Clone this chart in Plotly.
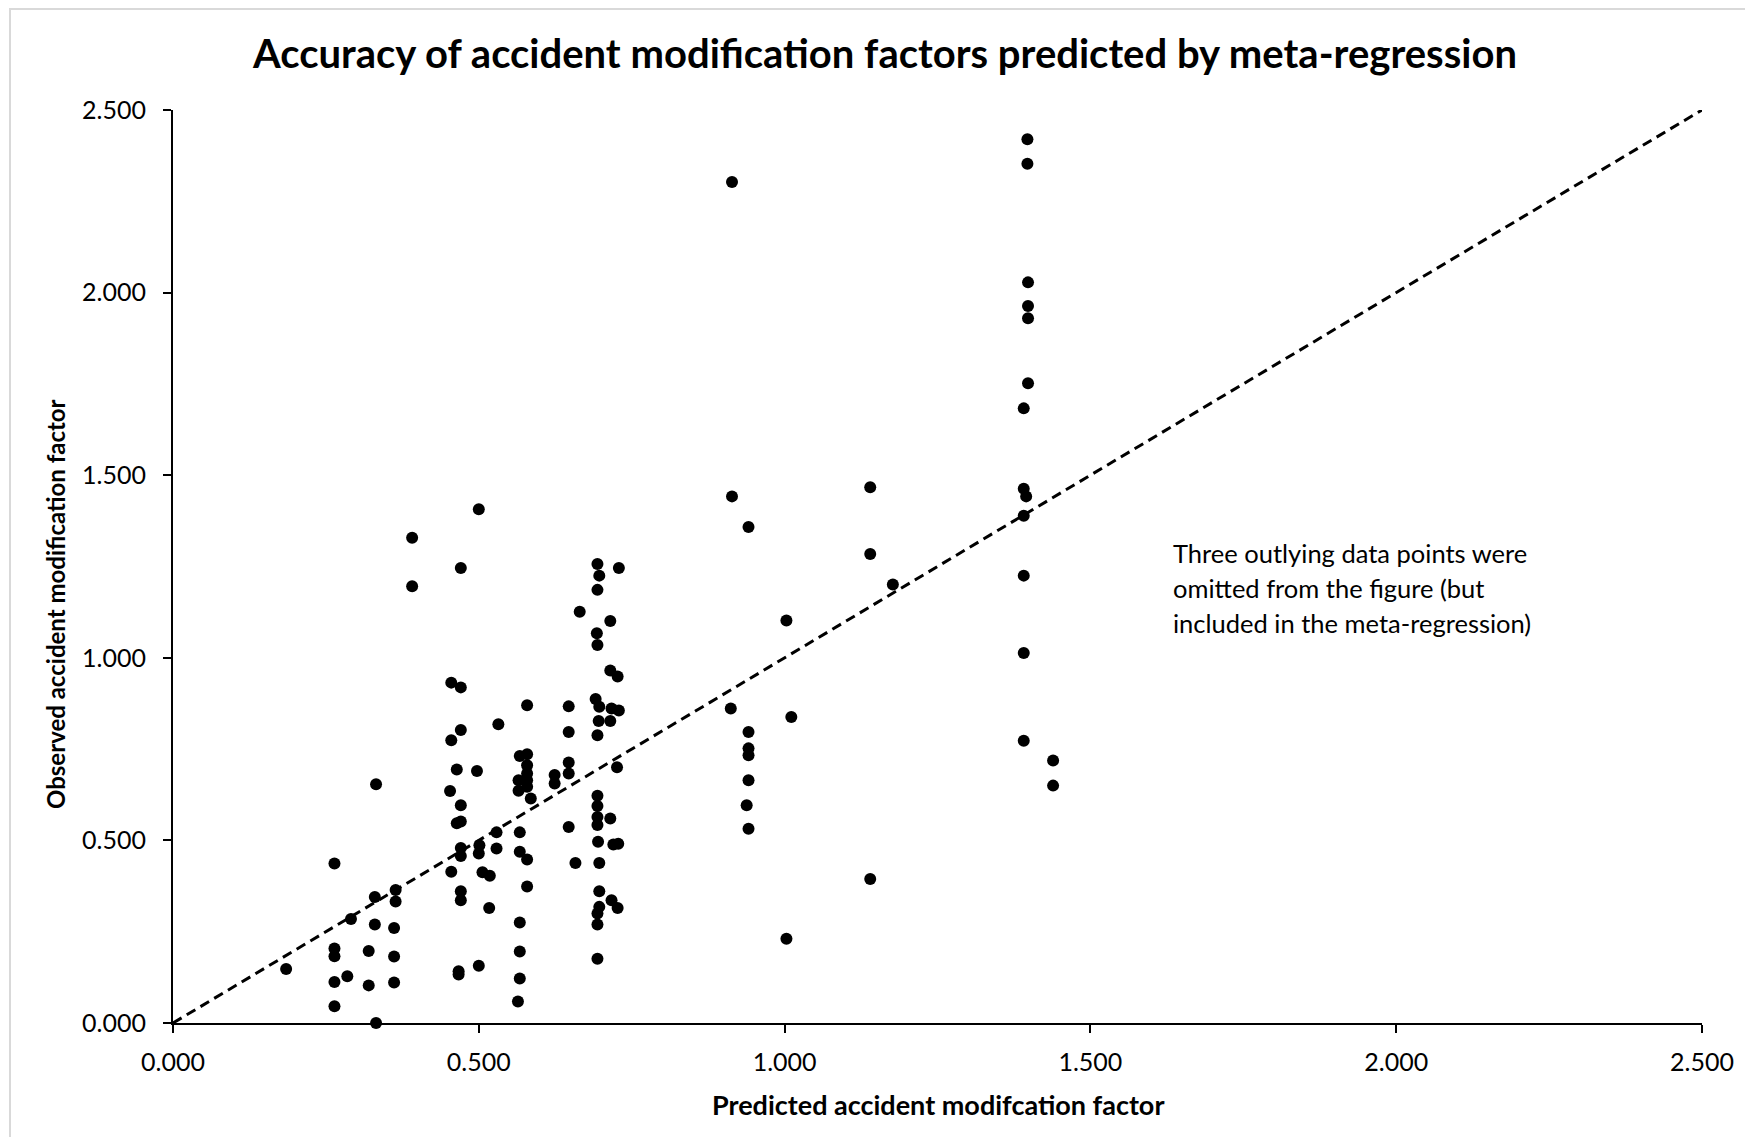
import plotly.graph_objects as go

# Predicted (x) and observed (y) accident modification factors
predicted = [
    0.185, 0.264, 0.264, 0.264, 0.264, 0.264, 0.285, 0.291, 0.320, 0.320,
    0.330, 0.330, 0.332, 0.332, 0.364, 0.364, 0.3615, 0.3615, 0.3615, 0.391,
    0.391, 0.453, 0.455, 0.455, 0.455, 0.464, 0.464, 0.4706, 0.4706, 0.4706,
    0.4706, 0.4706, 0.4706, 0.4706, 0.4706, 0.4706, 0.467, 0.467, 0.500, 0.497,
    0.501, 0.500, 0.500, 0.506, 0.518, 0.517, 0.529, 0.529, 0.532, 0.565,
    0.565, 0.567, 0.567, 0.567, 0.567, 0.567, 0.567, 0.564, 0.579, 0.579,
    0.579, 0.579, 0.579, 0.579, 0.585, 0.579, 0.579, 0.624, 0.624, 0.647,
    0.647, 0.647, 0.647, 0.647, 0.658, 0.665, 0.694, 0.697, 0.694, 0.693,
    0.694, 0.691, 0.697, 0.696, 0.694, 0.694, 0.694, 0.694, 0.694, 0.695,
    0.697, 0.697, 0.697, 0.694, 0.694, 0.694, 0.729, 0.715, 0.715, 0.727,
    0.717, 0.729, 0.715, 0.726, 0.715, 0.720, 0.728, 0.717, 0.727, 0.914,
    0.914, 0.941, 0.912, 0.941, 0.941, 0.941, 0.941, 0.938, 0.941, 1.003,
    1.011, 1.003, 1.140, 1.140, 1.177, 1.140, 1.397, 1.397, 1.398, 1.398,
    1.398, 1.398, 1.391, 1.391, 1.395, 1.391, 1.391, 1.391, 1.391, 1.439,
    1.439,
]
observed = [
    0.148, 0.437, 0.204, 0.183, 0.112, 0.046, 0.128, 0.285, 0.197, 0.103,
    0.345, 0.270, 0.654, 0.000, 0.364, 0.333, 0.260, 0.182, 0.111, 1.329,
    1.196, 0.635, 0.932, 0.774, 0.414, 0.694, 0.547, 1.246, 0.919, 0.802,
    0.596, 0.552, 0.479, 0.457, 0.361, 0.336, 0.142, 0.133, 1.407, 0.690,
    0.487, 0.464, 0.157, 0.413, 0.403, 0.315, 0.522, 0.478, 0.818, 0.665,
    0.636, 0.731, 0.522, 0.469, 0.275, 0.196, 0.122, 0.059, 0.870, 0.736,
    0.706, 0.683, 0.665, 0.647, 0.615, 0.448, 0.374, 0.679, 0.656, 0.867,
    0.797, 0.713, 0.683, 0.537, 0.438, 1.126, 1.257, 1.225, 1.186, 1.067,
    1.035, 0.887, 0.866, 0.827, 0.788, 0.622, 0.594, 0.564, 0.542, 0.496,
    0.438, 0.361, 0.318, 0.300, 0.270, 0.176, 1.246, 1.101, 0.965, 0.949,
    0.861, 0.856, 0.827, 0.700, 0.560, 0.489, 0.491, 0.336, 0.315, 2.303,
    1.442, 1.358, 0.861, 0.797, 0.752, 0.733, 0.665, 0.596, 0.532, 1.102,
    0.838, 0.231, 1.467, 1.284, 1.201, 0.394, 2.420, 2.353, 2.028, 1.963,
    1.930, 1.752, 1.683, 1.463, 1.442, 1.389, 1.225, 1.013, 0.773, 0.719,
    0.650,
]

# Line of perfect agreement (y = x)
identity_x = [0.0, 2.5]
identity_y = [0.0, 2.5]

tick_values = [0.0, 0.5, 1.0, 1.5, 2.0, 2.5]
tick_labels = ["0.000", "0.500", "1.000", "1.500", "2.000", "2.500"]

title_text = "Accuracy of accident modification factors predicted by meta-regression"
x_title = "Predicted accident modifcation factor"
y_title = "Observed accident modification factor"
note_lines = [
    "Three outlying data points were",
    "omitted from the figure (but",
    "included in the meta-regression)",
]

FONT = "Lato, 'Open Sans', sans-serif"

fig = go.Figure()
fig.add_trace(go.Scatter(
    x=identity_x, y=identity_y, mode="lines",
    line=dict(color="black", width=3, dash="10px,6px"),
    hoverinfo="skip", showlegend=False,
))
fig.add_trace(go.Scatter(
    x=predicted, y=observed, mode="markers",
    marker=dict(color="black", size=12, line=dict(width=0)),
    cliponaxis=False, showlegend=False,
))

# The page body has an 8px margin; work in page pixels and convert.
OFF = 8
W, H = 1753 - 2 * OFF, 1145 - 2 * OFF
PLOT_L, PLOT_R, PLOT_T, PLOT_B = 173, 1702, 110, 1023   # page pixels
L = PLOT_L - OFF
T = PLOT_T - OFF
R = W - (PLOT_R - OFF)
B = H - (PLOT_B - OFF)
pw, ph = W - L - R, H - T - B


def px_x(page_px):
    return (page_px - OFF - L) / pw


def px_y(page_py):
    return (H - B - (page_py - OFF)) / ph


def axis_style(standoff):
    return dict(
        range=[0, 2.5], tickvals=tick_values, ticktext=tick_labels,
        showgrid=False, zeroline=False, showline=True, linecolor="black",
        linewidth=2, ticks="outside", ticklen=8, tickwidth=2, tickcolor="black",
        tickfont=dict(family=FONT, size=25, color="black"),
        ticklabelstandoff=standoff, fixedrange=True,
    )


fig.update_layout(
    width=W, height=H,
    margin=dict(l=L, r=R, t=T, b=B, autoexpand=False),
    paper_bgcolor="white", plot_bgcolor="white",
    xaxis=axis_style(8),
    yaxis=axis_style(12),
    font=dict(family=FONT, color="black"),
    title=dict(
        text="<b>" + title_text + "</b>",
        x=(885 - OFF) / W, xanchor="center", xref="container",
        y=1 - (54 - OFF) / H, yanchor="middle", yref="container",
        font=dict(family=FONT, size=40, color="black"),
    ),
)

annotations = [
    dict(text="<b>" + x_title + "</b>", xref="paper", yref="paper",
         x=0.5, y=px_y(1104), xanchor="center", yanchor="middle",
         showarrow=False, font=dict(family=FONT, size=27, color="black")),
    dict(text="<b>" + y_title + "</b>", xref="paper", yref="paper",
         x=px_x(55), y=px_y(604), xanchor="center",
         yanchor="middle", textangle=-90, showarrow=False,
         font=dict(family=FONT, size=24, color="black")),
]
for line, ypx in zip(note_lines, [553, 588, 623]):
    annotations.append(dict(
        text=line, xref="paper", yref="paper",
        x=px_x(1171), y=px_y(ypx), xanchor="left",
        yanchor="middle", showarrow=False,
        font=dict(family=FONT, size=25.5, color="black"),
    ))
fig.update_layout(annotations=annotations)

# light grey chart-area frame (left and top edges visible)
fig.add_shape(type="rect", xref="paper", yref="paper",
              x0=px_x(10), y0=px_y(1145 + 30),
              x1=px_x(1753 + 30), y1=px_y(OFF + 1),
              line=dict(color="#d9d9d9", width=2), fillcolor="rgba(0,0,0,0)",
              layer="below")

fig.write_html("out.html")
